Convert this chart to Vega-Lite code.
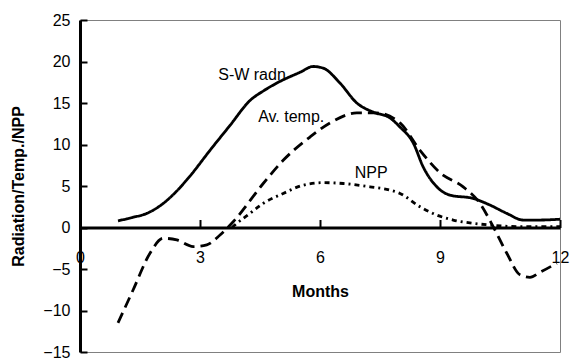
{
  "$schema": "https://vega.github.io/schema/vega-lite/v6.json",
  "width": 480,
  "height": 332,
  "autosize": {"type": "none"},
  "padding": {"left": 80, "top": 20, "right": 17, "bottom": 6},
  "background": "white",
  "config": {
    "font": "Liberation Sans",
    "view": {"stroke": "#808080", "strokeWidth": 1}
  },
  "datasets": {
    "lines": [
      {"series": "S-W radn", "month": 0.95, "value": 0.8},
      {"series": "S-W radn", "month": 1.3, "value": 1.2},
      {"series": "S-W radn", "month": 1.67, "value": 1.7},
      {"series": "S-W radn", "month": 2.08, "value": 2.9},
      {"series": "S-W radn", "month": 2.4, "value": 4.3},
      {"series": "S-W radn", "month": 2.75, "value": 6.2},
      {"series": "S-W radn", "month": 3.25, "value": 9.3},
      {"series": "S-W radn", "month": 3.75, "value": 12.3},
      {"series": "S-W radn", "month": 4.25, "value": 15.3},
      {"series": "S-W radn", "month": 4.6, "value": 16.5},
      {"series": "S-W radn", "month": 4.92, "value": 17.4},
      {"series": "S-W radn", "month": 5.5, "value": 18.7},
      {"series": "S-W radn", "month": 5.83, "value": 19.4},
      {"series": "S-W radn", "month": 6.08, "value": 19.2},
      {"series": "S-W radn", "month": 6.5, "value": 17.4},
      {"series": "S-W radn", "month": 6.92, "value": 15.0},
      {"series": "S-W radn", "month": 7.33, "value": 13.9},
      {"series": "S-W radn", "month": 7.75, "value": 13.2},
      {"series": "S-W radn", "month": 8.0, "value": 12.1},
      {"series": "S-W radn", "month": 8.33, "value": 10.2},
      {"series": "S-W radn", "month": 8.58, "value": 7.3},
      {"series": "S-W radn", "month": 8.92, "value": 4.9},
      {"series": "S-W radn", "month": 9.25, "value": 3.9},
      {"series": "S-W radn", "month": 9.83, "value": 3.5},
      {"series": "S-W radn", "month": 10.25, "value": 2.7},
      {"series": "S-W radn", "month": 10.67, "value": 1.7},
      {"series": "S-W radn", "month": 11.08, "value": 0.9},
      {"series": "S-W radn", "month": 11.5, "value": 0.9},
      {"series": "S-W radn", "month": 12, "value": 1.0},
      {"series": "Av. temp.", "month": 0.95, "value": -11.5},
      {"series": "Av. temp.", "month": 1.33, "value": -7.5},
      {"series": "Av. temp.", "month": 1.75, "value": -3.1},
      {"series": "Av. temp.", "month": 2.08, "value": -1.3},
      {"series": "Av. temp.", "month": 2.42, "value": -1.5},
      {"series": "Av. temp.", "month": 2.83, "value": -2.3},
      {"series": "Av. temp.", "month": 3.17, "value": -2.1},
      {"series": "Av. temp.", "month": 3.5, "value": -0.9},
      {"series": "Av. temp.", "month": 3.83, "value": 0.7},
      {"series": "Av. temp.", "month": 4.58, "value": 5.3},
      {"series": "Av. temp.", "month": 5.08, "value": 8.1},
      {"series": "Av. temp.", "month": 5.75, "value": 10.9},
      {"series": "Av. temp.", "month": 6.25, "value": 12.6},
      {"series": "Av. temp.", "month": 6.92, "value": 13.8},
      {"series": "Av. temp.", "month": 7.42, "value": 13.8},
      {"series": "Av. temp.", "month": 8.0, "value": 12.6},
      {"series": "Av. temp.", "month": 8.5, "value": 9.3},
      {"series": "Av. temp.", "month": 9.0, "value": 6.6},
      {"series": "Av. temp.", "month": 9.58, "value": 4.9},
      {"series": "Av. temp.", "month": 10.0, "value": 2.9},
      {"series": "Av. temp.", "month": 10.33, "value": 0.1},
      {"series": "Av. temp.", "month": 10.67, "value": -3.1},
      {"series": "Av. temp.", "month": 11.0, "value": -5.7},
      {"series": "Av. temp.", "month": 11.25, "value": -6.0},
      {"series": "Av. temp.", "month": 11.5, "value": -5.4},
      {"series": "Av. temp.", "month": 11.92, "value": -4.3},
      {"series": "NPP", "month": 3.8, "value": 0.0},
      {"series": "NPP", "month": 3.92, "value": 0.5},
      {"series": "NPP", "month": 4.25, "value": 1.7},
      {"series": "NPP", "month": 4.58, "value": 2.9},
      {"series": "NPP", "month": 5.08, "value": 4.1},
      {"series": "NPP", "month": 5.58, "value": 5.1},
      {"series": "NPP", "month": 6.08, "value": 5.4},
      {"series": "NPP", "month": 6.58, "value": 5.3},
      {"series": "NPP", "month": 7.25, "value": 4.9},
      {"series": "NPP", "month": 7.75, "value": 4.5},
      {"series": "NPP", "month": 8.0, "value": 4.1},
      {"series": "NPP", "month": 8.5, "value": 2.5},
      {"series": "NPP", "month": 8.92, "value": 1.5},
      {"series": "NPP", "month": 9.33, "value": 0.9},
      {"series": "NPP", "month": 9.83, "value": 0.5},
      {"series": "NPP", "month": 10.25, "value": 0.3},
      {"series": "NPP", "month": 11.0, "value": 0.1},
      {"series": "NPP", "month": 12, "value": 0.1}
    ],
    "labels": [
      {"label": "S-W radn", "month": 4.3, "value": 18.4},
      {"label": "Av. temp.", "month": 5.28, "value": 13.3},
      {"label": "NPP", "month": 7.28, "value": 6.6}
    ]
  },
  "layer": [
    {
      "data": {"name": "lines"},
      "mark": {"type": "line", "interpolate": "monotone", "strokeWidth": 2.8, "color": "black"},
      "encoding": {
        "x": {
          "field": "month", "type": "quantitative",
          "scale": {"domain": [0, 12], "nice": false},
          "axis": {
            "values": [0, 3, 6, 9, 12],
            "offset": -124.5,
            "grid": false,
            "domainColor": "black", "domainWidth": 3,
            "tickColor": "black", "tickWidth": 2, "tickSize": -8,
            "labelFontSize": 16, "labelColor": "black", "labelPadding": 30,
            "labelFlush": false,
            "title": "Months", "titleFontSize": 16, "titleFontWeight": "bold",
            "titleColor": "black", "titlePadding": 18
          }
        },
        "y": {
          "field": "value", "type": "quantitative",
          "scale": {"domain": [-15, 25], "nice": false},
          "axis": {
            "values": [-15, -10, -5, 0, 5, 10, 15, 20, 25],
            "grid": false,
            "domainColor": "black", "domainWidth": 3,
            "tickColor": "black", "tickWidth": 2, "tickSize": -7,
            "labelFontSize": 16, "labelColor": "black", "labelPadding": 17,
            "labelFlush": false,
            "title": "Radiation/Temp./NPP", "titleFontSize": 16, "titleFontWeight": "bold",
            "titleColor": "black", "titlePadding": 16
          }
        },
        "detail": {"field": "series"},
        "strokeDash": {
          "field": "series", "type": "nominal",
          "scale": {"domain": ["S-W radn", "Av. temp.", "NPP"], "range": [[1, 0], [11, 6], [5, 4, 2, 4]]},
          "legend": null
        }
      }
    },
    {
      "data": {"name": "labels"},
      "mark": {"type": "text", "fontSize": 16, "color": "black", "align": "center", "baseline": "middle"},
      "encoding": {
        "x": {"field": "month", "type": "quantitative"},
        "y": {"field": "value", "type": "quantitative"},
        "text": {"field": "label"}
      }
    }
  ]
}
